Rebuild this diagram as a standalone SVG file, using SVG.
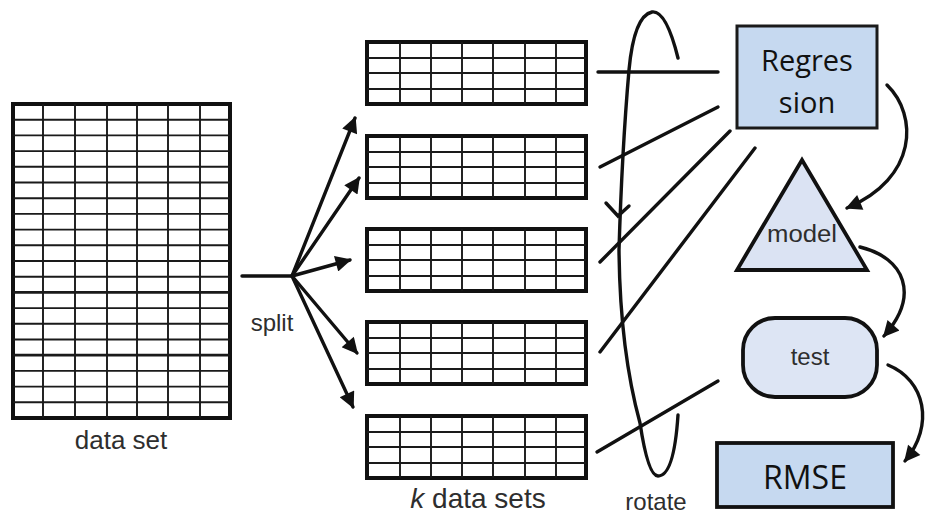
<svg xmlns="http://www.w3.org/2000/svg" xmlns:xlink="http://www.w3.org/1999/xlink" width="928" height="516" viewBox="0 0 928 516">
<style>
.outer{fill:#fff;stroke:#111;stroke-width:4}
.grid{stroke:#1a1a1a;stroke-width:1.9;fill:none}
.thick{stroke:#1a1a1a;stroke-width:2.8}
.conn{stroke:#111;stroke-width:3.4;fill:none;stroke-linecap:round}
.lbl{font-family:"Liberation Sans",Arial,sans-serif;fill:#2e2e2e}
.cal{font-family:"Open Sans","Noto Sans",sans-serif;fill:#111;text-anchor:middle}
</style>
<defs>
<marker id="ah" viewBox="0 0 10 10" refX="9" refY="5" markerWidth="20" markerHeight="16" orient="auto" markerUnits="userSpaceOnUse">
<path d="M0,0 L10,5 L0,10 z" fill="#111"/>
</marker>
<g id="st">
<rect class="outer" x="0" y="0" width="219" height="62"/>
<path class="grid" d="M33,0V62M64,0V62M95,0V62M126,0V62M158,0V62M189,0V62M0,16H219M0,31H219M0,47H219"/>
</g>
</defs>

<g id="dataset">
<rect class="outer" x="13" y="104" width="217" height="314"/>
<path class="grid" d="M43,104V418M75,104V418M107,104V418M137,104V418M168,104V418M200,104V418
M13,119.7H230M13,135.4H230M13,151.1H230M13,166.8H230M13,182.5H230M13,198.2H230M13,213.9H230M13,229.6H230M13,245.3H230M13,261H230M13,276.7H230
M13,308.1H230M13,323.8H230M13,339.5H230M13,370.9H230M13,386.6H230M13,402.3H230"/>
<path class="thick" d="M13,292.4H230M13,355.2H230"/>
<text class="lbl" x="121" y="449" font-size="26" text-anchor="middle">data set</text>
</g>

<g id="split">
<text class="lbl" x="272" y="331" font-size="24" text-anchor="middle">split</text>
</g>

<g id="k1"><use xlink:href="#st" x="367" y="42"/></g>
<g id="k2"><use xlink:href="#st" x="367" y="136"/></g>
<g id="k3"><use xlink:href="#st" x="367" y="229"/></g>
<g id="k4"><use xlink:href="#st" x="367" y="322"/></g>
<g id="k5"><use xlink:href="#st" x="367" y="416"/></g>
<g id="klabel">
<text class="lbl" x="478" y="508" font-size="28" text-anchor="middle"><tspan font-style="italic">k</tspan> data sets</text>
</g>

<g id="regression">
<rect x="737" y="26" width="140" height="102" fill="#c6d9f0" stroke="#1a1a1a" stroke-width="3"/>
<text class="cal" x="807" y="71" font-size="29">Regres</text>
<text class="cal" x="807" y="113" font-size="29">sion</text>
</g>

<g id="model">
<path d="M802,160 L867,270 L737,270 Z" fill="#dbe3f3" stroke="#111" stroke-width="3.8" stroke-linejoin="miter"/>
<text class="lbl" x="802" y="242" font-size="23" text-anchor="middle" textLength="70" lengthAdjust="spacingAndGlyphs">model</text>
</g>

<g id="test">
<rect x="743" y="318" width="134" height="79" rx="32" ry="32" fill="#dde5f4" stroke="#111" stroke-width="3.8"/>
<text class="lbl" x="810" y="365" font-size="24" text-anchor="middle">test</text>
</g>

<g id="rmse">
<rect x="717" y="443" width="176" height="64" fill="#c6d9f0" stroke="#111" stroke-width="3.8"/>
<text class="cal" x="805" y="489" font-size="32">RMSE</text>
</g>

<g id="rotatelabel">
<text class="lbl" x="656" y="510" font-size="24" text-anchor="middle">rotate</text>
</g>

<g id="connectors">
<path class="conn" d="M242,276 H292"/>
<path class="conn" d="M292,276 L355,118" marker-end="url(#ah)"/>
<path class="conn" d="M292,276 L359,178" marker-end="url(#ah)"/>
<path class="conn" d="M292,276 L350,260" marker-end="url(#ah)"/>
<path class="conn" d="M292,276 L357,353" marker-end="url(#ah)"/>
<path class="conn" d="M292,276 L353,407" marker-end="url(#ah)"/>

<path class="conn" d="M598,72 H718"/>
<path class="conn" d="M600,167 L718,107"/>
<path class="conn" d="M600,262 L730,131"/>
<path class="conn" d="M600,352 L755,148"/>
<path class="conn" d="M597,452 L718,381"/>

<path class="conn" d="M678,58 Q666,10 652,12 Q634,16 629,70 Q622,150 619,250 Q620,350 640,423 Q648,476 658,476 Q674,476 678,415"/>
<path class="conn" d="M606,203 L618,216 L629,206"/>

<path class="conn" d="M887,85 C918,115 918,178 847,208" marker-end="url(#ah)"/>
<path class="conn" d="M860,247 C905,258 920,295 884,336" marker-end="url(#ah)"/>
<path class="conn" d="M888,365 C925,380 935,425 905,461" marker-end="url(#ah)"/>
</g>
</svg>
